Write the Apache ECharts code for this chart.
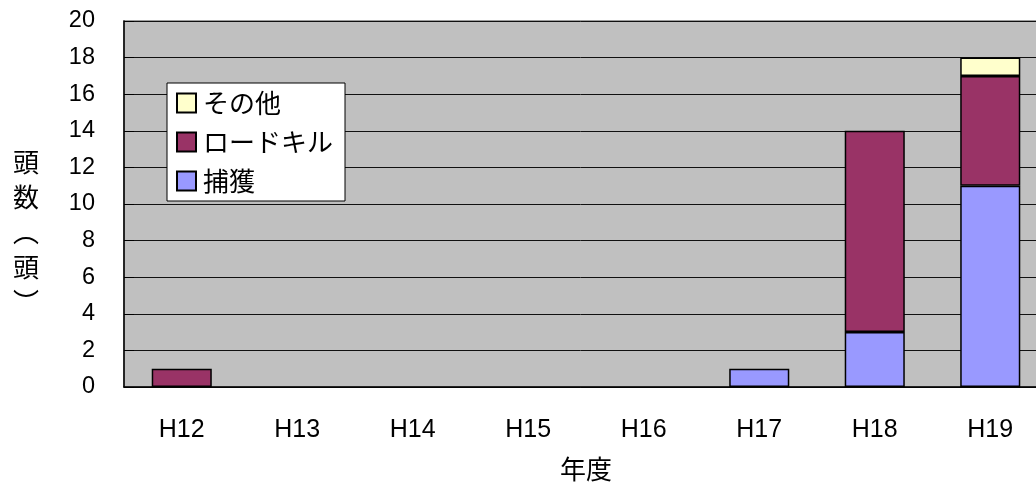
<!DOCTYPE html>
<html>
<head>
<meta charset="utf-8">
<script src="https://cdn.jsdelivr.net/npm/echarts@6/dist/echarts.min.js"></script>
<style>
  html, body { margin: 0; padding: 0; background: #fff; }
  #chart { width: 1036px; height: 482px; }
</style>
</head>
<body>
<div id="chart"></div>
<script>
// 年度別の頭数（捕獲・ロードキル・その他）
const years = ['H12', 'H13', 'H14', 'H15', 'H16', 'H17', 'H18', 'H19'];
const capture = [0, 0, 0, 0, 0, 1, 3, 11];    // 捕獲
const roadkill = [1, 0, 0, 0, 0, 0, 11, 6];   // ロードキル
const other = [0, 0, 0, 0, 0, 0, 0, 1];       // その他
const yTicks = { min: 0, max: 20, interval: 2 };

const latin = '"Liberation Sans", Arial, sans-serif';
const cjk = '"Noto Sans CJK JP", sans-serif';

const chart = echarts.init(document.getElementById('chart'), null, { renderer: 'canvas' });

function barSeries(name, data, color) {
  return {
    name: name,
    type: 'bar',
    stack: 'total',
    barWidth: '52%',
    data: data.map(v => (v === 0 ? null : v)),
    itemStyle: { color: color, borderColor: '#000', borderWidth: 1.5 },
    emphasis: { disabled: true },
    animation: false
  };
}

chart.setOption({
  animation: false,
  grid: {
    left: 124, top: 21, right: -12, bottom: 95,
    outerBoundsMode: 'none',
    containLabel: false,
    show: true,
    backgroundColor: '#c0c0c0',
    borderColor: '#808080',
    borderWidth: 1.5
  },
  legend: {
    orient: 'vertical',
    left: 167, top: 83,
    data: ['その他', 'ロードキル', '捕獲'],
    backgroundColor: '#fff',
    borderColor: '#000',
    borderWidth: 1,
    borderRadius: 0,
    padding: [7, 12, 7, 9],
    itemWidth: 19,
    itemHeight: 19,
    itemGap: 13,
    icon: 'rect',
    textStyle: { fontFamily: cjk, fontSize: 26, color: '#000', padding: [0, 0, 0, 2] },
    selectedMode: false
  },
  xAxis: {
    type: 'category',
    data: years,
    boundaryGap: true,
    name: '年度',
    nameLocation: 'middle',
    nameGap: 69,
    nameTextStyle: { fontFamily: cjk, fontSize: 26, color: '#000' },
    axisLine: { lineStyle: { color: '#000', width: 1.5 } },
    axisTick: { inside: true, length: 10, lineStyle: { color: '#000' } },
    axisLabel: { fontFamily: latin, fontSize: 25, color: '#000', margin: 31 },
    splitLine: { show: false }
  },
  yAxis: {
    type: 'value',
    min: yTicks.min,
    max: yTicks.max,
    interval: yTicks.interval,
    axisLine: { show: true, lineStyle: { color: '#000', width: 1.5 } },
    axisTick: { show: true, inside: true, length: 10, lineStyle: { color: '#000' } },
    axisLabel: { fontFamily: latin, fontSize: 23.5, color: '#000', margin: 29 },
    splitLine: { show: true, lineStyle: { color: '#111', width: 1 } }
  },
  graphic: [{
    type: 'text',
    x: 26, y: 232,
    style: {
      text: '頭\n数\n︵\n頭\n︶',
      font: '26px "Noto Sans CJK JP", sans-serif',
      fill: '#000',
      textAlign: 'center',
      textVerticalAlign: 'middle',
      lineHeight: 35
    }
  }],
  series: [
    barSeries('捕獲', capture, '#9999ff'),
    barSeries('ロードキル', roadkill, '#993366'),
    barSeries('その他', other, '#ffffcc')
  ]
});
</script>
</body>
</html>
